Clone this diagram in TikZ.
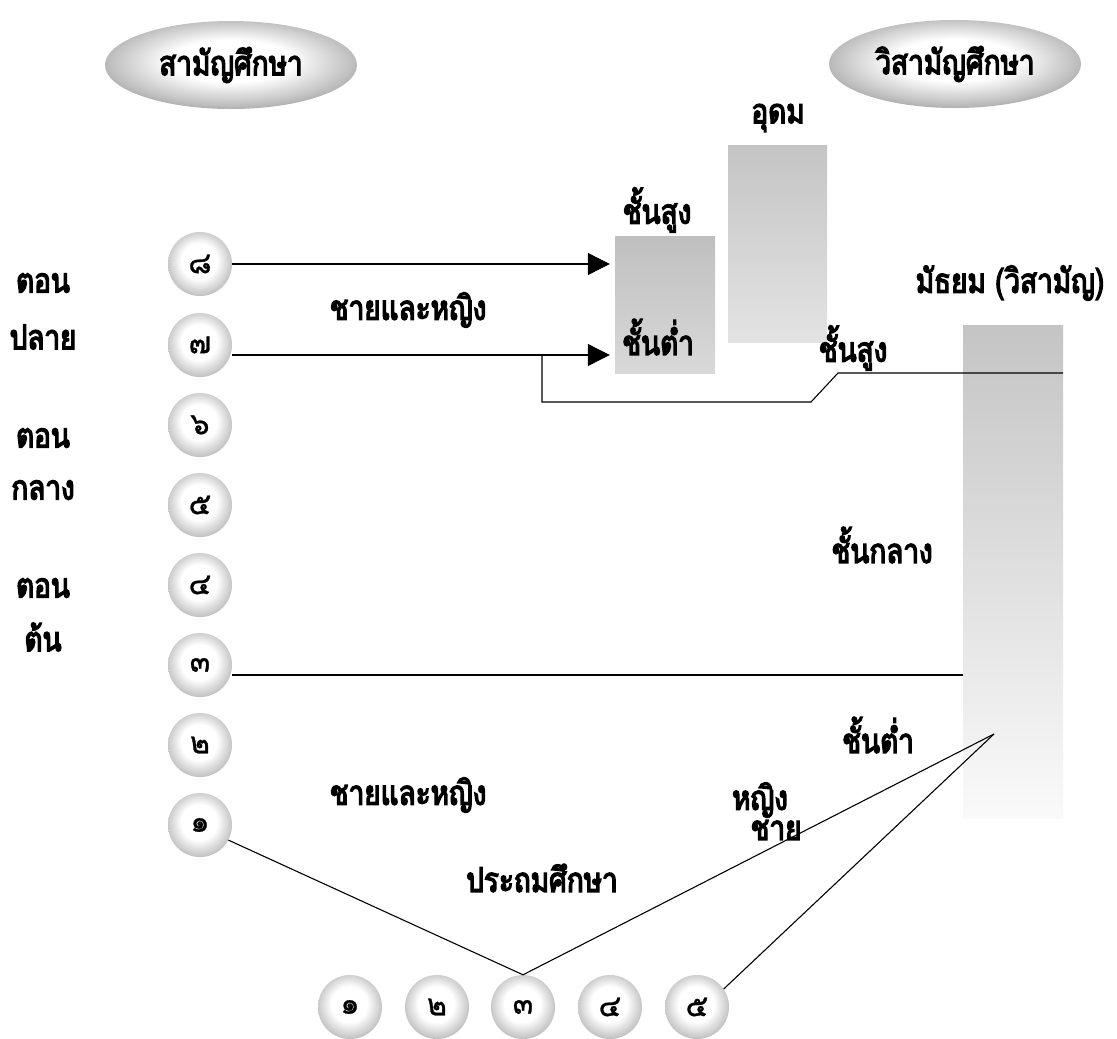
\documentclass[tikz,border=0pt]{standalone}
\usepackage{fontspec}
\newfontfamily\thaifont[Script=Thai, FakeBold=4, FakeStretch=0.82]{Loma}
\newfontfamily\thaidigit[Script=Thai, FakeBold=1]{Loma}
\usetikzlibrary{arrows.meta,shapes.geometric}
\pgfdeclareradialshading{ballshade}{\pgfpoint{-1bp}{3bp}}{color(0bp)=(white); color(14bp)=(white); color(25bp)=(black!22); color(32bp)=(black!42); color(35bp)=(black!40); color(37bp)=(black!20); color(50bp)=(black!20)}
\pgfdeclareradialshading{ovalshade}{\pgfpoint{0bp}{3bp}}{color(0bp)=(white); color(12bp)=(white); color(24bp)=(black!25); color(33bp)=(black!48); color(36bp)=(black!40); color(50bp)=(black!40)}
\tikzset{
  thai/.style={font=\thaifont\fontsize{#1}{#1}\selectfont},
  ball/.style={circle, minimum size=64pt, inner sep=0pt, shading=ballshade, font=\thaidigit\fontsize{30}{30}\selectfont},
  oval/.style={ellipse, minimum width=252pt, minimum height=88pt, inner sep=0pt, shading=ovalshade, thai=34},
  lbl/.style={inner sep=0pt, thai=34},
  bar/.style={rectangle, inner sep=0pt, draw=none},
  conn/.style={line width=1.1pt, black},
  arr/.style={conn, -{Triangle[length=22pt,width=22pt]}, shorten >=5pt}
}
\begin{document}
\begin{tikzpicture}[x=1pt,y=-1pt]
\useasboundingbox[fill=white] (0,0) rectangle (1117,1039);
% header ovals
\node[oval] (sam) at (231,65) {สามัญศึกษา};
\node[oval] (wisam) at (955,64) {วิสามัญศึกษา};
% bars
\node[bar, minimum width=100pt, minimum height=137pt, top color=black!25, bottom color=black!15] (low) at (665,304.5) {};
\node[bar, minimum width=99pt, minimum height=197pt, top color=black!23, bottom color=black!11] (high) at (777.5,243.5) {};
\node[bar, minimum width=100pt, minimum height=493pt, top color=black!23, bottom color=black!2] (tall) at (1013,571.5) {};
% left column circles
\foreach \n/\t/\y in {8/๘/264,7/๗/345,6/๖/425,5/๕/505,4/๔/585,3/๓/665,2/๒/745,1/๑/825}
  \node[ball] (l\n) at (200,\y) {\t};
% bottom circles
\foreach \n/\t/\x in {1/๑/350,2/๒/437,3/๓/523,4/๔/610,5/๕/697}
  \node[ball] (b\n) at (\x,1007) {\t};
% coordinates
\coordinate (br) at (542,355);
\coordinate (brA) at (542,402);
\coordinate (brB) at (811,402);
\coordinate (brC) at (838,373);
\coordinate (brD) at (1063,373);
\coordinate (apex) at (994,734);
% connectors
\draw[arr] (l8) -- (l8 -| low.west);
\draw[arr] ([yshift=-10pt]l7.east) -- ([yshift=-10pt]l7.east -| low.west);
\draw[conn] (br) -- (brA) -- (brB) -- (brC) -- (brD);
\draw[conn] ([yshift=-10pt]l3.east) -- ([yshift=-10pt]l3.east -| tall.west);
\draw[conn] (l1.-28) -- (b3.north) -- (apex);
\draw[conn] (b5.34) -- (apex);
% labels
\node[lbl] (t1) at (43,283) {ตอน};
\node[lbl] (t2) at (43,337) {ปลาย};
\node[lbl] (t3) at (43,438) {ตอน};
\node[lbl] (t4) at (43,490) {กลาง};
\node[lbl] (t5) at (43,588) {ตอน};
\node[lbl] (t6) at (43,637) {ต้น};
\node[lbl] (mf1) at (408,310) {ชายและหญิง};
\node[lbl] (mf2) at (408,795) {ชายและหญิง};
\node[lbl] (udom) at (778,118) {อุดม};
\node[lbl] (ls) at (657,210) {ชั้นสูง};
\node[lbl] (lt) at (658,337) {ชั้นต่ำ};
\node[lbl] (mat) at (1010,283) {มัธยม (วิสามัญ)};
\node[lbl] (ms) at (853,348) {ชั้นสูง};
\node[lbl] (mk) at (882,545) {ชั้นกลาง};
\node[lbl] (mt) at (878,735) {ชั้นต่ำ};
\node[lbl] (f) at (760,800) {หญิง};
\node[lbl] (m) at (776,830) {ชาย};
\node[lbl] (pr) at (542,878) {ประถมศึกษา};
\end{tikzpicture}
\end{document}
